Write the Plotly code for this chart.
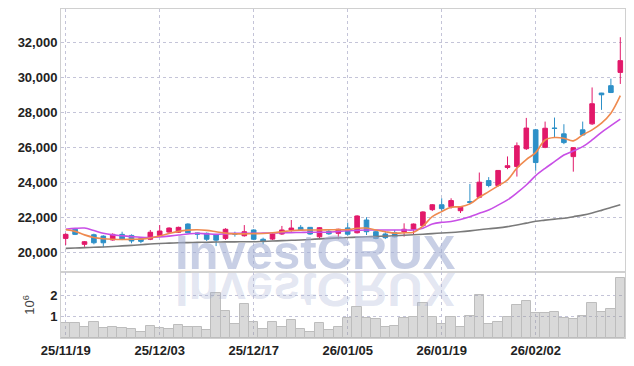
import plotly.graph_objects as go
from plotly.subplots import make_subplots

# ---------------- data ----------------
dates = [
    "2025-11-19", "2025-11-20", "2025-11-21", "2025-11-24", "2025-11-25",
    "2025-11-26", "2025-11-27", "2025-11-28", "2025-12-01", "2025-12-02",
    "2025-12-03", "2025-12-04", "2025-12-05", "2025-12-08", "2025-12-09",
    "2025-12-10", "2025-12-11", "2025-12-12", "2025-12-15", "2025-12-16",
    "2025-12-17", "2025-12-18", "2025-12-19", "2025-12-22", "2025-12-23",
    "2025-12-24", "2025-12-26", "2025-12-29", "2025-12-30", "2026-01-02",
    "2026-01-05", "2026-01-06", "2026-01-07", "2026-01-08", "2026-01-09",
    "2026-01-12", "2026-01-13", "2026-01-14", "2026-01-15", "2026-01-16",
    "2026-01-19", "2026-01-20", "2026-01-21", "2026-01-22", "2026-01-23",
    "2026-01-26", "2026-01-27", "2026-01-28", "2026-01-29", "2026-01-30",
    "2026-02-02", "2026-02-03", "2026-02-04", "2026-02-05", "2026-02-06",
    "2026-02-09", "2026-02-10", "2026-02-11", "2026-02-12", "2026-02-13",
]

open_ = [20800, 21320, 20460, 21010, 20930, 20710, 21030, 20970, 20780, 20750,
         20970, 21160, 21150, 21620, 21110, 21090, 21010, 20800, 21080, 20950,
         21280, 20750, 20760, 21050, 21280, 21430, 21430, 20890, 21200, 21090,
         21400, 21120, 21850, 21180, 21050, 21120, 21180, 21320, 21530, 22440,
         22720, 22610, 22380, 22900, 23150, 24100, 23820, 24850, 24900, 25920,
         27000, 26000, 27100, 26770, 25470, 27000, 27340, 29100, 29520, 30280]
high = [21090, 21380, 20650, 21070, 20980, 21090, 21180, 21030, 20840, 21280,
        21560, 21430, 21470, 21660, 21130, 21140, 21040, 21380, 21180, 21560,
        21320, 20840, 21150, 21510, 21850, 21560, 21450, 21450, 21300, 21350,
        21700, 22120, 22010, 21250, 21150, 21280, 21660, 21650, 22350, 22760,
        23090, 23090, 22600, 23910, 24560, 24300, 24700, 25480, 26280, 27680,
        27050, 27470, 27700, 27320, 26000, 27470, 29420, 29110, 29920, 32290]
low = [20420, 20990, 20320, 20460, 20290, 20670, 20700, 20520, 20520, 20700,
       20930, 21120, 21110, 21090, 20760, 20650, 20360, 20710, 20900, 20900,
       20700, 20460, 20700, 21000, 21180, 21250, 21000, 20750, 21000, 20750,
       20950, 21080, 20990, 20750, 20760, 20860, 20900, 21000, 21480, 22360,
       22330, 22500, 22250, 22750, 23100, 23720, 23750, 24750, 24330, 25850,
       24660, 25950, 26560, 26180, 24610, 26650, 27280, 28140, 29100, 29620]
close = [21030, 21030, 20610, 20550, 20550, 21030, 20750, 20650, 20630, 21150,
         21220, 21390, 21430, 21120, 21040, 20750, 20700, 21320, 21040, 21180,
         20750, 20650, 21050, 21280, 21390, 21280, 21050, 21410, 21060, 21320,
         21040, 22080, 21180, 20800, 20840, 20890, 21320, 21620, 22310, 22720,
         22500, 22960, 22580, 22850, 24010, 23820, 24680, 24950, 26090, 27100,
         25130, 27090, 27080, 26270, 25980, 26710, 28490, 29000, 29130, 30950]

ma_short = [21300, 21200, 21000, 20850, 20780, 20750, 20740, 20750, 20760, 20820,
            20940, 21080, 21200, 21270, 21290, 21260, 21180, 21100, 21060, 21060,
            21070, 21080, 21120, 21180, 21240, 21270, 21280, 21280, 21290, 21300,
            21300, 21380, 21390, 21280, 21180, 21100, 21120, 21150, 21500, 22040,
            22330, 22580, 22610, 22770, 23150, 23470, 23800, 24140, 24810, 25300,
            25700, 26420, 26560, 26520, 26370, 26710, 27000, 27380, 27950, 28950]
ma_mid = [21320, 21370, 21390, 21250, 21090, 21000, 20950, 20900, 20860, 20850,
          20880, 20930, 20990, 21050, 21090, 21060, 21030, 21060, 21090, 21090,
          21090, 21100, 21110, 21120, 21130, 21140, 21150, 21150, 21150, 21200,
          21240, 21260, 21280, 21280, 21280, 21280, 21280, 21280, 21380, 21620,
          21720, 21760, 21880, 22040, 22230, 22420, 22700, 23000, 23400, 23850,
          24380, 24800, 25180, 25560, 25790, 26040, 26420, 26860, 27240, 27610]
ma_long = [20230, 20250, 20270, 20290, 20310, 20340, 20370, 20400, 20440, 20480,
           20510, 20530, 20550, 20560, 20570, 20580, 20590, 20600, 20600, 20610,
           20610, 20630, 20650, 20670, 20690, 20710, 20740, 20770, 20800, 20830,
           20850, 20870, 20890, 20910, 20930, 20950, 20980, 21010, 21040, 21070,
           21110, 21140, 21180, 21230, 21290, 21350, 21400, 21470, 21560, 21670,
           21780, 21840, 21900, 21950, 22040, 22130, 22250, 22400, 22560, 22720]

volume_m = [0.72, 0.72, 0.50, 0.73, 0.45, 0.50, 0.45, 0.41, 0.27, 0.55,
            0.45, 0.41, 0.61, 0.50, 0.50, 0.36, 2.09, 1.26, 0.64, 1.57,
            0.76, 0.41, 0.76, 0.50, 0.83, 0.41, 0.30, 0.69, 0.36, 0.50,
            0.92, 1.43, 0.92, 0.87, 0.50, 0.56, 0.92, 0.98, 1.62, 0.98,
            0.64, 0.98, 0.50, 1.03, 2.00, 0.64, 0.76, 0.98, 1.53, 1.71,
            1.15, 1.15, 1.20, 0.93, 0.89, 1.03, 1.62, 1.20, 1.36, 2.79]

tick_dates = ["2025-11-19", "2025-12-03", "2025-12-17", "2026-01-05", "2026-01-19", "2026-02-02"]
tick_labels = ["25/11/19", "25/12/03", "25/12/17", "26/01/05", "26/01/19", "26/02/02"]
price_ticks = [20000, 22000, 24000, 26000, 28000, 30000, 32000]
volume_ticks = [1, 2]
watermark = "InvestCRUX"

# ---------------- styles ----------------
UP = "#E2196A"
DOWN = "#2D90C8"
GRID = "#c4c4d8"
FRAME = "#d0d0d0"
TICKFONT = dict(family="Liberation Sans, Arial, sans-serif",
                size=13, color="#222222", weight="bold")

fig = make_subplots(rows=2, cols=1, shared_xaxes=True, vertical_spacing=0,
                    row_heights=[0.7994, 0.2006])

fig.add_trace(go.Candlestick(
    x=dates, open=open_, high=high, low=low, close=close,
    increasing=dict(line=dict(color=UP, width=1), fillcolor=UP),
    decreasing=dict(line=dict(color=DOWN, width=1), fillcolor=DOWN),
    showlegend=False, hoverinfo="skip"), row=1, col=1)

fig.add_trace(go.Scatter(x=dates, y=ma_long, mode="lines",
                         line=dict(color="#7a7a7a", width=1.6, shape="spline"),
                         showlegend=False, hoverinfo="skip"), row=1, col=1)
fig.add_trace(go.Scatter(x=dates, y=ma_mid, mode="lines",
                         line=dict(color="#C84FE6", width=1.6, shape="spline"),
                         showlegend=False, hoverinfo="skip"), row=1, col=1)
fig.add_trace(go.Scatter(x=dates, y=ma_short, mode="lines",
                         line=dict(color="#EF8A4F", width=1.6, shape="spline"),
                         showlegend=False, hoverinfo="skip"), row=1, col=1)

fig.add_trace(go.Bar(x=dates, y=volume_m,
                     marker=dict(color="rgba(150,150,150,0.36)",
                                 line=dict(color="#bdbdbd", width=1)),
                     showlegend=False, hoverinfo="skip"), row=2, col=1)

common_x = dict(type="category", range=[-0.5, len(dates) - 0.5],
                tickvals=tick_dates, ticktext=tick_labels,
                showgrid=True, gridcolor=GRID, griddash="dot", gridwidth=1,
                showline=True, linecolor=FRAME, linewidth=1, mirror=True,
                ticks="", zeroline=False, tickfont=TICKFONT, automargin=False,
                rangeslider=dict(visible=False))
fig.update_xaxes(**common_x)
fig.update_xaxes(showticklabels=False, row=1, col=1)
fig.update_xaxes(showticklabels=True, row=2, col=1)

fig.update_yaxes(range=[18880, 33900], tickvals=price_ticks, tickformat=",",
                 showgrid=True, gridcolor=GRID, griddash="dot", gridwidth=1,
                 showline=True, linecolor=FRAME, linewidth=1, mirror=True,
                 ticks="", zeroline=False, tickfont=TICKFONT, automargin=False,
                 row=1, col=1)
fig.update_yaxes(range=[0, 3.09], tickvals=volume_ticks,
                 showgrid=True, gridcolor=GRID, griddash="dot", gridwidth=1,
                 showline=True, linecolor=FRAME, linewidth=1, mirror=True,
                 ticks="", zeroline=False, tickfont=TICKFONT, automargin=False,
                 title=dict(text="10<sup>6</sup>", standoff=12,
                            font=dict(family="Liberation Sans, sans-serif", size=13, color="#444")),
                 row=2, col=1)

wm_font = dict(family="Liberation Sans, Arial, sans-serif", size=49, weight="bold")
fig.add_annotation(text=watermark, xref="paper", yref="paper", x=0.4504, y=0.2006,
                   xanchor="center", yanchor="bottom", yshift=-9, showarrow=False,
                   font=dict(color="rgba(160,172,210,0.58)", **wm_font))
fig.add_annotation(text=watermark, xref="paper", yref="paper", x=0.4504, y=0.2006,
                   xanchor="center", yanchor="top", yshift=11, showarrow=False,
                   font=dict(color="rgba(160,172,210,0.30)", **wm_font))

# page body has an 8px margin: size the figure so it fits the 634x366 window
fig.update_layout(width=618, height=350,
                  margin=dict(l=53, r=1, t=1, b=20, autoexpand=False),
                  paper_bgcolor="white", plot_bgcolor="white",
                  bargap=0, showlegend=False)

flip_js = """
var gd = document.getElementById('{plot_id}');
function flipWM(){
  var anns = gd.querySelectorAll('g.annotation');
  anns.forEach(function(a){
    if (a.getAttribute('data-index') === '1') {
      var t = a.querySelector('text.annotation-text');
      if (t) {
        t.style.transformBox = 'fill-box';
        t.style.transformOrigin = '50% 50%';
        t.style.transform = 'scaleY(-1)';
      }
    }
  });
}
flipWM();
gd.on('plotly_afterplot', flipWM);
"""

fig.write_html("out.html", post_script=flip_js)
